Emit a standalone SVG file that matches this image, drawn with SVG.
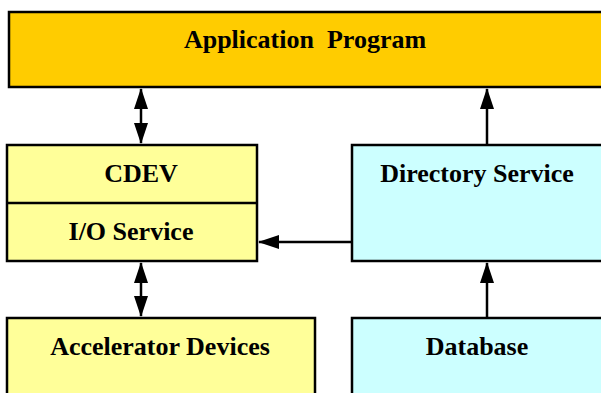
<svg xmlns="http://www.w3.org/2000/svg" width="601" height="393" viewBox="0 0 601 393">
<style>
.box{stroke:#000;stroke-width:2.5}
.app{fill:#FFCC00}
.yel{fill:#FFFF99}
.cyan{fill:#CCFFFF}
.t{font-family:"Liberation Serif","Times New Roman",serif;font-weight:bold;font-size:26px;fill:#000;text-anchor:middle;white-space:pre}
.c{stroke:#000;stroke-width:2.5;fill:none}
</style>
<defs>
<marker id="ah" markerUnits="userSpaceOnUse" markerWidth="21" markerHeight="14" refX="20" refY="7" orient="auto-start-reverse" viewBox="0 0 21 14">
<path d="M0,0 L21,7 L0,14 z" fill="#000"/>
</marker>
</defs>
<rect width="601" height="393" fill="#fff"/>
<g id="app">
<rect class="box app" x="9" y="12" width="600" height="75"/>
<text class="t" x="305" y="48" xml:space="preserve">Application  Program</text>
</g>
<g id="cdev">
<rect class="box yel" x="7" y="145" width="250" height="116"/>
<line x1="7" y1="203" x2="257" y2="203" stroke="#000" stroke-width="2.5"/>
<text class="t" x="141" y="182">CDEV</text>
<text class="t" x="131" y="240">I/O Service</text>
</g>
<g id="dir">
<rect class="box cyan" x="352" y="145" width="260" height="116"/>
<text class="t" x="477" y="182">Directory Service</text>
</g>
<g id="accel">
<rect class="box yel" x="7" y="318" width="308" height="90"/>
<text class="t" x="160" y="355">Accelerator Devices</text>
</g>
<g id="db">
<rect class="box cyan" x="352" y="318" width="260" height="90"/>
<text class="t" x="477" y="355">Database</text>
</g>
<g id="connectors">
<line class="c" x1="141" y1="89" x2="141" y2="143" marker-start="url(#ah)" marker-end="url(#ah)"/>
<line class="c" x1="487" y1="144" x2="487" y2="89" marker-end="url(#ah)"/>
<line class="c" x1="351" y1="242" x2="259" y2="242" marker-end="url(#ah)"/>
<line class="c" x1="141" y1="263" x2="141" y2="316" marker-start="url(#ah)" marker-end="url(#ah)"/>
<line class="c" x1="487" y1="317" x2="487" y2="263" marker-end="url(#ah)"/>
</g>
</svg>
